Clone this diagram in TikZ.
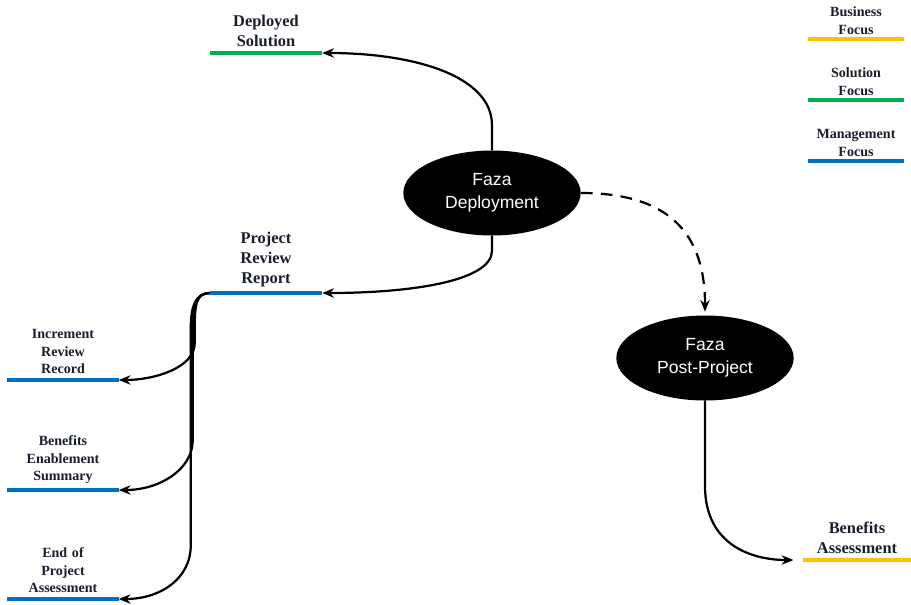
\documentclass[tikz,border=0pt]{standalone}
\usepackage{fontspec}
\setmainfont{Liberation Serif}
\setsansfont{Liberation Sans}
\usepackage{tikz}
\usetikzlibrary{shapes.geometric, arrows.meta, positioning}
\definecolor{inkdark}{RGB}{25,30,45}
\definecolor{focusgreen}{RGB}{0,176,80}
\definecolor{focusblue}{RGB}{0,112,192}
\definecolor{focusgold}{RGB}{255,192,0}
\tikzset{
  basebox/.style={rectangle,inner xsep=0pt,inner ysep=5pt,align=center,text=inkdark,anchor=south},
  bigdeliv/.style={basebox,font=\fontsize{14}{17}\selectfont\bfseries},
  smalldeliv/.style={basebox,font=\fontsize{12}{15}\selectfont\bfseries},
  legendnode/.style={smalldeliv,inner ysep=3.5pt},
  phasenode/.style={ellipse,fill=black,text=white,inner sep=0pt,minimum width=5.32cm,minimum height=2.55cm,align=center,font=\sffamily\fontsize{15}{20}\selectfont},
  arr/.style={-{Stealth[length=10pt,width=8pt]},line width=1.9pt,color=black},
  dasharr/.style={arr,dash pattern=on 10pt off 7pt},
  greenbar/.style={line width=2.6pt,draw=focusgreen},
  bluebar/.style={line width=2.6pt,draw=focusblue},
  goldbar/.style={line width=2.6pt,draw=focusgold}
}

\begin{document}
\begin{tikzpicture}[x=0.03cm,y=-0.03cm]
  \useasboundingbox (0,0) rectangle (911,604);

  % phases
  \node[phasenode] (dep) at (492,193) {Faza\\Deployment};
  \node[phasenode] (post) at (705,358) {Faza\\Post-Project};

  % deliverables
  \node[bigdeliv,text width=3.36cm] (ds) at (266,53) {Deployed\\Solution};
  \node[bigdeliv,text width=3.36cm] (prr) at (266,293) {Project\\Review\\Report};
  \node[smalldeliv,text width=3.33cm] (irr) at (63,380) {Increment\\Review\\Record};
  \node[smalldeliv,text width=3.33cm] (bes) at (63,490) {Benefits\\Enablement\\Summary};
  \node[smalldeliv,text width=3.33cm] (epa) at (63,599) {End of\\Project\\Assessment};
  \node[bigdeliv,text width=3.24cm] (ba) at (857,560) {Benefits\\Assessment};

  % legend
  \node[legendnode,text width=2.88cm] (bf) at (856,39) {Business\\Focus};
  \node[legendnode,text width=2.88cm] (sf) at (856,100) {Solution\\Focus};
  \node[legendnode,text width=2.88cm] (mf) at (856,161) {Management\\Focus};

  % focus bars
  \draw[greenbar] (ds.south west) -- (ds.south east);
  \draw[bluebar] (prr.south west) -- (prr.south east);
  \draw[bluebar] (irr.south west) -- (irr.south east);
  \draw[bluebar] (bes.south west) -- (bes.south east);
  \draw[bluebar] (epa.south west) -- (epa.south east);
  \draw[goldbar] (ba.south west) -- (ba.south east);
  \draw[goldbar] (bf.south west) -- (bf.south east);
  \draw[greenbar] (sf.south west) -- (sf.south east);
  \draw[bluebar] (mf.south west) -- (mf.south east);

  % flows
  \draw[arr] (dep.north) -- ++(0,-25) .. controls +(0,-50) and +(90,0) .. (ds.south east);
  \draw[arr] (dep.south) -- ++(0,15) .. controls +(0,30) and +(90,0) .. (prr.south east);
  \draw[dasharr,shorten >=3pt] (dep.east) .. controls +(90,0) and +(0,-80) .. (post.north);
  \draw[arr,shorten >=8pt] (post.south) -- ++(0,85) .. controls +(0,60) and +(-50,0) .. (ba.south west);

  \draw[arr] (prr.south west) .. controls +(-14,0) and +(0,-22) .. ++(-15,35) -- ++(0,15) .. controls +(0,25) and +(35,0) .. (irr.south east);
  \draw[arr] (prr.south west) .. controls +(-14,0) and +(0,-22) .. ++(-17,35) -- ++(0,112) .. controls +(0,30) and +(40,0) .. (bes.south east);
  \draw[arr] (prr.south west) .. controls +(-14,0) and +(0,-22) .. ++(-19,35) -- ++(0,217) .. controls +(0,35) and +(40,0) .. (epa.south east);
\end{tikzpicture}
\end{document}
